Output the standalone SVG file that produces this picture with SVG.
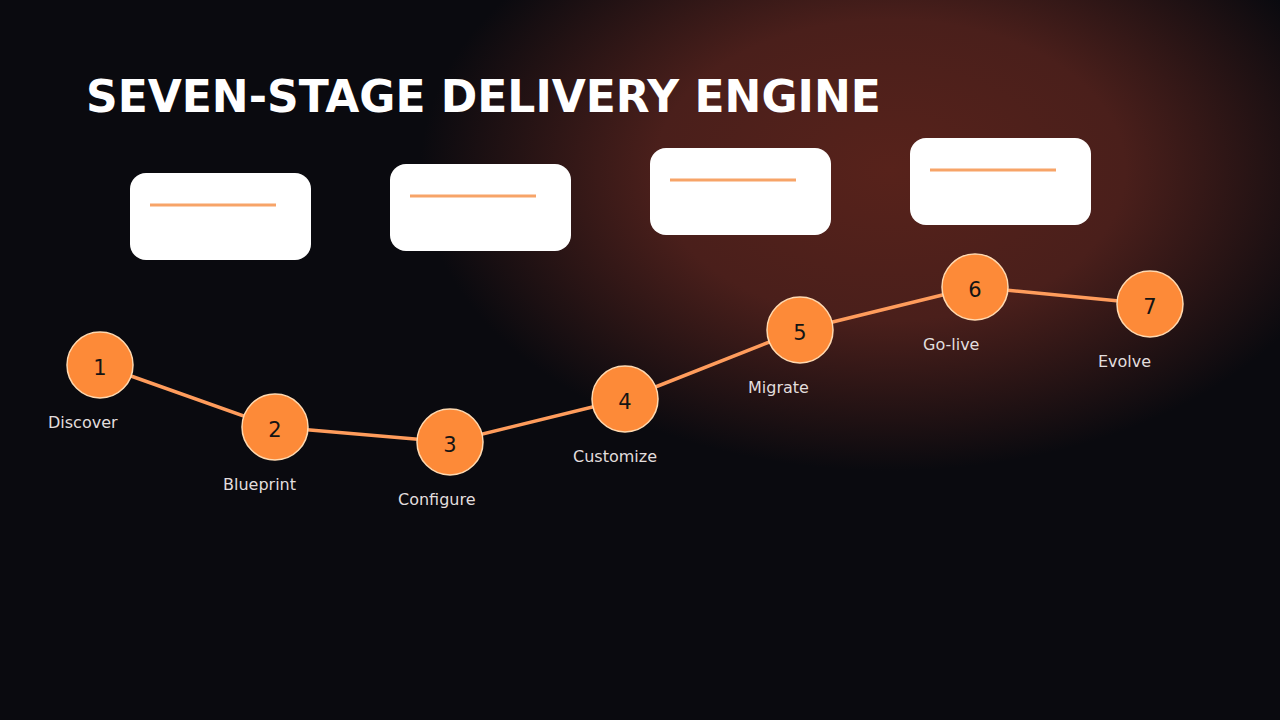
<svg xmlns="http://www.w3.org/2000/svg" width="1280" height="720" viewBox="0 0 1280 720">
  <defs>
    <radialGradient id="glow" cx="890" cy="170" r="470" gradientUnits="userSpaceOnUse" gradientTransform="translate(890 170) scale(1 0.64) translate(-890 -170)">
      <stop offset="0" stop-color="#57221b"/>
      <stop offset="0.5" stop-color="#4a1f1b"/>
      <stop offset="1" stop-color="#0a0a0f"/>
    </radialGradient>
    <style>
      .card { fill: #ffffff; }
      .bar { stroke: #f7a468; stroke-width: 3; }
      .conn { stroke: #ff9c5c; stroke-width: 3.5; fill: none; stroke-linecap: round; }
      .dot { fill: #fd8a38; stroke: #ffd9b0; stroke-width: 1.5; }
      .num { font-family: "DejaVu Sans", sans-serif; font-size: 21px; fill: #141414; text-anchor: middle; }
      .lbl { font-family: "DejaVu Sans", sans-serif; font-size: 16px; fill: #e2dede; }
      .title { font-family: "DejaVu Sans", sans-serif; font-weight: bold; font-size: 44px; fill: #ffffff; }
    </style>
  </defs>
  <rect width="1280" height="720" fill="#0a0a0f"/>
  <rect width="1280" height="720" fill="url(#glow)"/>

  <text class="title" x="86" y="112">SEVEN-STAGE DELIVERY ENGINE</text>

  <g id="card1"><rect class="card" x="130" y="173" width="181" height="87" rx="16"/><line class="bar" x1="150" y1="205" x2="276" y2="205"/></g>
  <g id="card2"><rect class="card" x="390" y="164" width="181" height="87" rx="16"/><line class="bar" x1="410" y1="196" x2="536" y2="196"/></g>
  <g id="card3"><rect class="card" x="650" y="148" width="181" height="87" rx="16"/><line class="bar" x1="670" y1="180" x2="796" y2="180"/></g>
  <g id="card4"><rect class="card" x="910" y="138" width="181" height="87" rx="16"/><line class="bar" x1="930" y1="170" x2="1056" y2="170"/></g>

  <g id="connectors">
    <line class="conn" x1="100" y1="365" x2="275" y2="427"/>
    <line class="conn" x1="275" y1="427" x2="450" y2="442"/>
    <line class="conn" x1="450" y1="442" x2="625" y2="399"/>
    <line class="conn" x1="625" y1="399" x2="800" y2="330"/>
    <line class="conn" x1="800" y1="330" x2="975" y2="287"/>
    <line class="conn" x1="975" y1="287" x2="1150" y2="304"/>
  </g>

  <g id="stage1"><circle class="dot" cx="100" cy="365" r="33"/><text class="num" x="100" y="375">1</text><text class="lbl" x="48" y="428">Discover</text></g>
  <g id="stage2"><circle class="dot" cx="275" cy="427" r="33"/><text class="num" x="275" y="437">2</text><text class="lbl" x="223" y="490">Blueprint</text></g>
  <g id="stage3"><circle class="dot" cx="450" cy="442" r="33"/><text class="num" x="450" y="452">3</text><text class="lbl" x="398" y="505">Configure</text></g>
  <g id="stage4"><circle class="dot" cx="625" cy="399" r="33"/><text class="num" x="625" y="409">4</text><text class="lbl" x="573" y="462">Customize</text></g>
  <g id="stage5"><circle class="dot" cx="800" cy="330" r="33"/><text class="num" x="800" y="340">5</text><text class="lbl" x="748" y="393">Migrate</text></g>
  <g id="stage6"><circle class="dot" cx="975" cy="287" r="33"/><text class="num" x="975" y="297">6</text><text class="lbl" x="923" y="350">Go-live</text></g>
  <g id="stage7"><circle class="dot" cx="1150" cy="304" r="33"/><text class="num" x="1150" y="314">7</text><text class="lbl" x="1098" y="367">Evolve</text></g>
</svg>
